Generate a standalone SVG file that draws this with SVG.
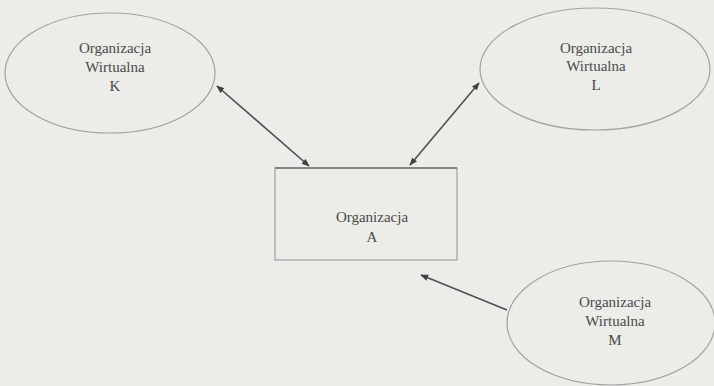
<svg xmlns="http://www.w3.org/2000/svg" width="714" height="386" viewBox="0 0 714 386">
<defs>
<style>
.bg{fill:#ecece9}
.node{fill:none;stroke:#a2a2a0;stroke-width:1.2}
.box{fill:none;stroke:#9a9a98;stroke-width:1.1}
.boxtop{stroke:#707070;stroke-width:1.3}
.conn{stroke:#505050;stroke-width:1.6;fill:none}
.t{font-family:"Liberation Serif","Times New Roman",serif;font-size:15px;fill:#4a4a4a;text-anchor:middle}
</style>
<marker id="ah" viewBox="0 0 10 10" refX="9" refY="5" markerWidth="5" markerHeight="5" orient="auto-start-reverse">
<path d="M0,1 L10,5 L0,9 Z" fill="#404040"/>
</marker>
</defs>
<rect class="bg" x="0" y="0" width="714" height="386"/>
<g id="node-K">
<ellipse class="node" cx="110" cy="73" rx="105" ry="60"/>
<text class="t" x="115" y="53">Organizacja</text>
<text class="t" x="115" y="72">Wirtualna</text>
<text class="t" x="115" y="91">K</text>
</g>
<g id="node-L">
<ellipse class="node" cx="595" cy="69" rx="115" ry="61"/>
<text class="t" x="596" y="53">Organizacja</text>
<text class="t" x="596" y="71">Wirtualna</text>
<text class="t" x="596" y="90">L</text>
</g>
<g id="node-A">
<rect class="box" x="275" y="168" width="182" height="92"/>
<line class="boxtop" x1="275" y1="168" x2="457" y2="168"/>
<text class="t" x="372" y="222">Organizacja</text>
<text class="t" x="372" y="242">A</text>
</g>
<g id="node-M">
<ellipse class="node" cx="611" cy="323" rx="104" ry="62"/>
<text class="t" x="615" y="307">Organizacja</text>
<text class="t" x="615" y="326">Wirtualna</text>
<text class="t" x="615" y="345">M</text>
</g>
<g id="connectors">
<line class="conn" x1="217" y1="86" x2="309" y2="166" marker-start="url(#ah)" marker-end="url(#ah)"/>
<line class="conn" x1="479" y1="83" x2="410" y2="165" marker-start="url(#ah)" marker-end="url(#ah)"/>
<line class="conn" x1="507" y1="310" x2="421" y2="275" marker-end="url(#ah)"/>
</g>
</svg>
